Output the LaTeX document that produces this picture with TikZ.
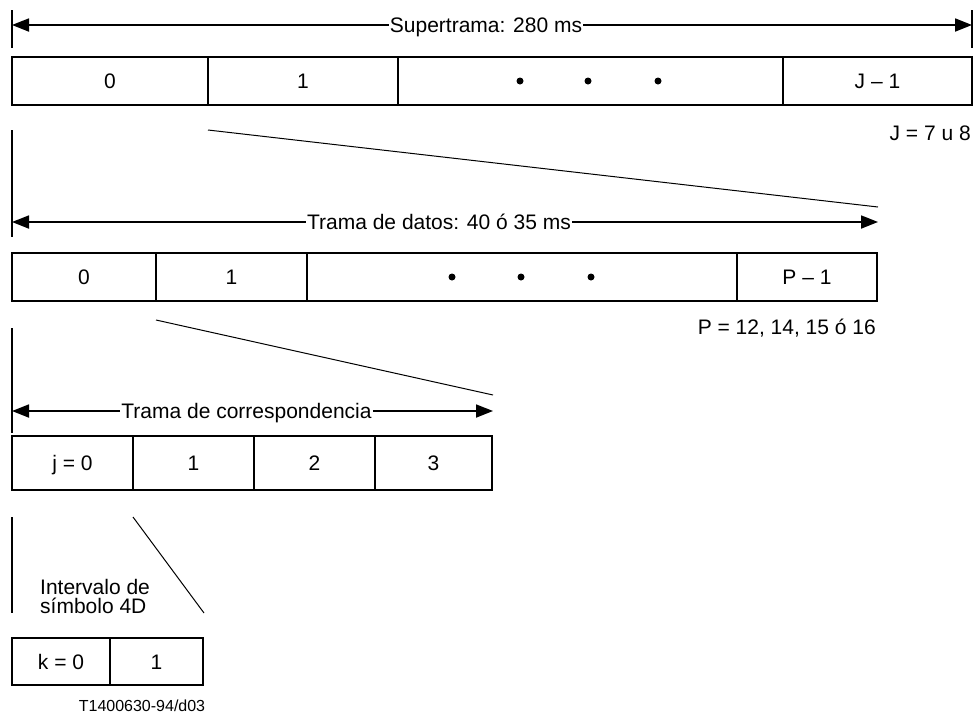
\documentclass[tikz,border=0pt]{standalone}
\usepackage{fontspec}
\setmainfont{Liberation Sans}
\usetikzlibrary{arrows.meta}
\begin{document}
\begin{tikzpicture}[x=1pt,y=-1pt,
  every node/.style={font=\fontsize{21}{24}\selectfont},
  cell/.style={draw, line width=1.5pt, inner sep=0pt, outer sep=0pt, anchor=north west, text height=15pt, text depth=0pt},
  tick/.style={line width=2pt},
  slant/.style={line width=1pt},
  arr/.style={line width=1.8pt, -{Triangle[length=17pt,width=13pt]}},
  lbl/.style={anchor=base, inner xsep=1pt, inner ysep=0pt},
  note/.style={anchor=base east, inner sep=0pt},
  txt/.style={anchor=base west, inner sep=0pt},
  dot/.style={circle, fill, inner sep=0pt, minimum size=7pt}]
\useasboundingbox (0,0) rectangle (974,716);

% ---------- Row 1: Supertrama ----------
\coordinate (L1a) at (12,10); \coordinate (L1b) at (12,48);
\coordinate (R1a) at (972,10); \coordinate (R1b) at (972,48);
\draw[tick] (L1a) -- (L1b);
\draw[tick] (R1a) -- (R1b);
\coordinate (L1) at (12,25); \coordinate (R1) at (972,25);
\node[lbl] (t1) at (486,32.5) {Supertrama: 280 ms};
\draw[arr] (t1.west |- L1) -- (L1);
\draw[arr] (t1.east |- R1) -- (R1);

\node[cell, minimum width=196pt, minimum height=48pt] (a0) at (12,57) {0};
\node[cell, minimum width=190pt, minimum height=48pt] (a1) at (208,57) {1};
\node[cell, minimum width=385pt, minimum height=48pt] (a2) at (398,57) {};
\node[cell, minimum width=189pt, minimum height=48pt] (a3) at (783,57) {J – 1};
\node[dot] (ad1) at (520,81) {};
\node[dot] (ad2) at (588,81) {};
\node[dot] (ad3) at (658,81) {};
\node[note] (jn) at (971,140) {J = 7 u 8};

% ---------- Row 2: Trama de datos ----------
\coordinate (S1a) at (208,130); \coordinate (S1b) at (878,207);
\draw[slant] (S1a) -- (S1b);
\coordinate (L2a) at (12,130); \coordinate (L2b) at (12,237);
\draw[tick] (L2a) -- (L2b);
\coordinate (L2) at (12,222); \coordinate (R2) at (878,222);
\node[lbl] (t2) at (439,229.5) {Trama de datos: 40 ó 35 ms};
\draw[arr] (t2.west |- L2) -- (L2);
\draw[arr] (t2.east |- R2) -- (R2);

\node[cell, minimum width=144pt, minimum height=48pt] (b0) at (12,253) {0};
\node[cell, minimum width=151pt, minimum height=48pt] (b1) at (156,253) {1};
\node[cell, minimum width=430pt, minimum height=48pt] (b2) at (307,253) {};
\node[cell, minimum width=140pt, minimum height=48pt] (b3) at (737,253) {P – 1};
\node[dot] (bd1) at (452,277) {};
\node[dot] (bd2) at (521,277) {};
\node[dot] (bd3) at (591,277) {};
\node[note] (pn) at (876,334) {P = 12, 14, 15 ó 16};

% ---------- Row 3: Trama de correspondencia ----------
\coordinate (S2a) at (156,320); \coordinate (S2b) at (493,395);
\draw[slant] (S2a) -- (S2b);
\coordinate (L3a) at (12,328); \coordinate (L3b) at (12,433);
\draw[tick] (L3a) -- (L3b);
\coordinate (L3) at (12,411); \coordinate (R3) at (493,411);
\node[lbl] (t3) at (246.5,418.5) {Trama de correspondencia};
\draw[arr] (t3.west |- L3) -- (L3);
\draw[arr] (t3.east |- R3) -- (R3);

\node[cell, minimum width=121pt, minimum height=54pt] (c0) at (12,436) {j = 0};
\node[cell, minimum width=121pt, minimum height=54pt] (c1) at (133,436) {1};
\node[cell, minimum width=121pt, minimum height=54pt] (c2) at (254,436) {2};
\node[cell, minimum width=117pt, minimum height=54pt] (c3) at (375,436) {3};

% ---------- Row 4: Intervalo de simbolo 4D ----------
\coordinate (S3a) at (133,517); \coordinate (S3b) at (204,613);
\draw[slant] (S3a) -- (S3b);
\coordinate (L4a) at (12,517); \coordinate (L4b) at (12,613);
\draw[tick] (L4a) -- (L4b);
\node[txt] (iv1) at (40,594) {Intervalo de};
\node[txt] (iv2) at (40,613) {símbolo 4D};

\node[cell, minimum width=98pt, minimum height=47pt] (d0) at (12,638) {k = 0};
\node[cell, minimum width=93pt, minimum height=47pt] (d1) at (110,638) {1};

\node[anchor=base, inner sep=0pt, font=\fontsize{16}{19}\selectfont] (ref) at (142,711) {T1400630-94/d03};
\end{tikzpicture}
\end{document}
